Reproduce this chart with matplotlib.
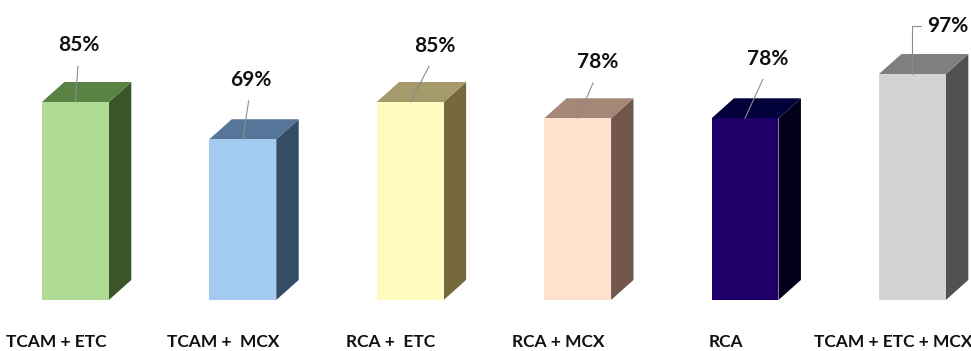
import matplotlib
matplotlib.use("Agg")
import matplotlib.pyplot as plt
from matplotlib.patches import Polygon

# data
categories = ["TCAM + ETC", "TCAM +  MCX", "RCA +  ETC", "RCA + MCX", "RCA", "TCAM + ETC + MCX"]
values = [85, 69, 85, 78, 78, 97]
front_colors = ["#AEDC94", "#A3CBF2", "#FFFBBF", "#FEE2CD", "#1F006B", "#D3D3D3"]
top_colors = ["#5B8245", "#557699", "#A59A6A", "#A48776", "#020038", "#7F7F7F"]
side_colors = ["#3A5628", "#344C66", "#77693E", "#73574B", "#02001A", "#515151"]

# layout (label offsets from the bar's front-top centre, in category / percent units)
label_dx = [0.02, 0.045, 0.145, 0.12, 0.135, 0.21]
label_dy = [24.5, 25.5, 24, 24, 25.5, 20.5]
WIDTH = 0.40
DEPTH_X, DEPTH_Y = 0.134, 8.6

plt.rcParams["font.family"] = ["Lato", "DejaVu Sans"]

fig = plt.figure(figsize=(9.71, 3.51), dpi=100)
ax = fig.add_axes([0, 0, 1, 1])
ax.set_xlim(-0.4504, 5.350)
ax.set_ylim(-21.9, 128.8)
ax.axis("off")

xs = list(range(len(values)))
ax.bar(xs, values, width=WIDTH, color=front_colors, edgecolor="none", zorder=3)

for x, v, tc, sc in zip(xs, values, top_colors, side_colors):
    l, r = x - WIDTH / 2, x + WIDTH / 2
    side = Polygon([(r, 0), (r + DEPTH_X, DEPTH_Y), (r + DEPTH_X, v + DEPTH_Y), (r, v)],
                   closed=True, facecolor=sc, edgecolor="none", zorder=2)
    top = Polygon([(l, v), (l + DEPTH_X, v + DEPTH_Y), (r + DEPTH_X, v + DEPTH_Y), (r, v)],
                  closed=True, facecolor=tc, edgecolor="none", zorder=2)
    ax.add_patch(side)
    ax.add_patch(top)

for i, (x, v) in enumerate(zip(xs, values)):
    lx, ly = x + label_dx[i], v + label_dy[i]
    if i == len(values) - 1:
        arrow = dict(arrowstyle="-", color="#8C8C8C", lw=0.8, shrinkA=2, shrinkB=0,
                     relpos=(0, 0.5), connectionstyle="angle,angleA=180,angleB=90,rad=0")
    else:
        arrow = dict(arrowstyle="-", color="#8C8C8C", lw=0.8, shrinkA=6, shrinkB=0,
                     relpos=(0.5, 0))
    ax.annotate(f"{v}%", xy=(x, v), xytext=(lx, ly), ha="center", va="center",
                fontsize=15, fontweight="bold", color="#111111",
                arrowprops=arrow, zorder=5)

for x, c in zip(xs, categories):
    ax.text(x - 0.115, -18, c, ha="center", va="center", fontsize=12.5,
            fontweight="bold", color="#111111")

fig.savefig("out.png", dpi=100)
